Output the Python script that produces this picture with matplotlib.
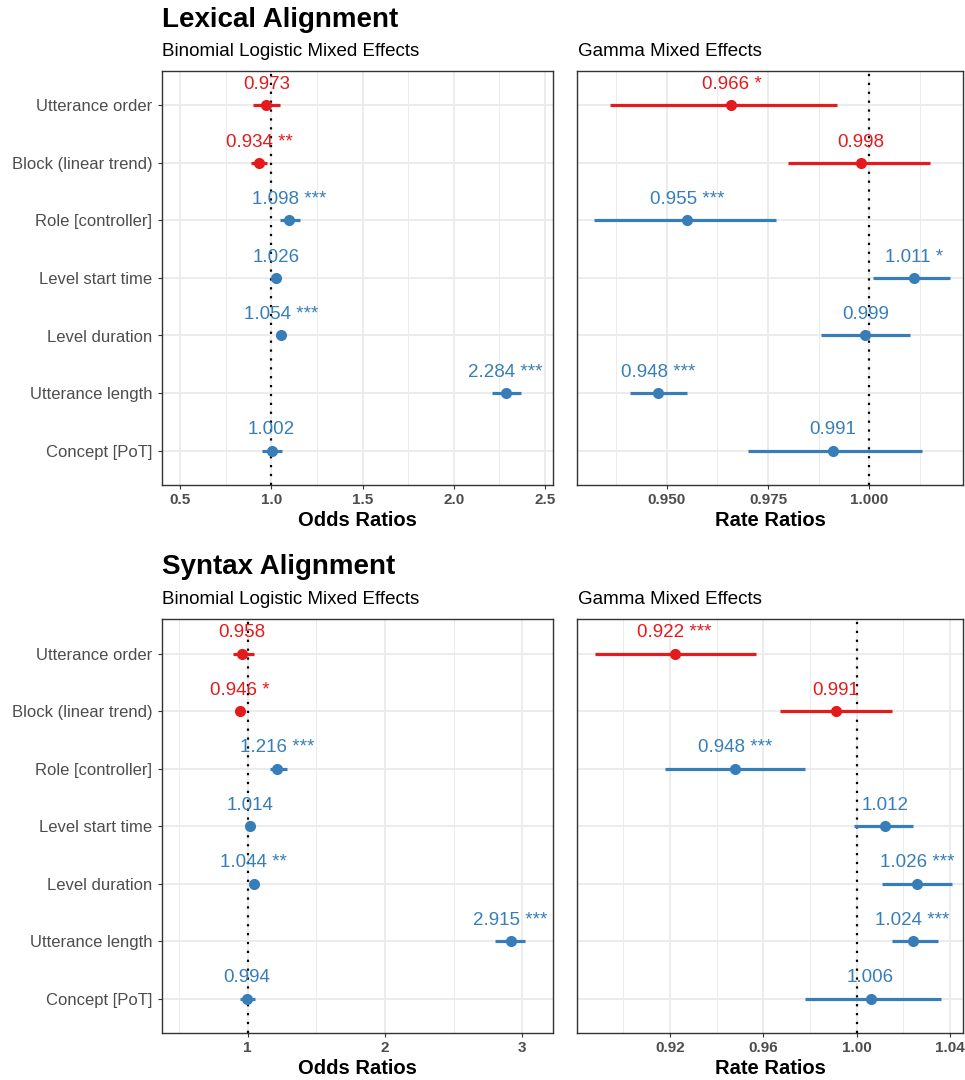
import matplotlib
matplotlib.use("Agg")
import matplotlib.pyplot as plt
from matplotlib.ticker import FixedLocator

plt.rcParams['font.family'] = ['Liberation Sans', 'DejaVu Sans']

# Termos (de cima para baixo)
terms = ["Utterance order", "Block (linear trend)", "Role [controller]",
         "Level start time", "Level duration", "Utterance length", "Concept [PoT]"]
term_group = ["time", "time", "other", "other", "other", "other", "other"]

# Lexical - odds ratios
lex_or = [0.973, 0.934, 1.098, 1.026, 1.054, 2.284, 1.002]
lex_or_lo = [0.900, 0.890, 1.045, 1.008, 1.035, 2.210, 0.950]
lex_or_hi = [1.050, 0.975, 1.160, 1.044, 1.075, 2.370, 1.060]
lex_or_stars = ["", "**", "***", "", "***", "***", ""]

# Lexical - rate ratios
lex_rr = [0.966, 0.998, 0.955, 1.011, 0.999, 0.948, 0.991]
lex_rr_lo = [0.936, 0.980, 0.932, 1.001, 0.988, 0.941, 0.970]
lex_rr_hi = [0.992, 1.015, 0.977, 1.020, 1.010, 0.955, 1.013]
lex_rr_stars = ["*", "", "***", "*", "", "***", ""]

# Syntax - odds ratios
syn_or = [0.958, 0.946, 1.216, 1.014, 1.044, 2.915, 0.994]
syn_or_lo = [0.893, 0.918, 1.162, 0.996, 1.026, 2.800, 0.944]
syn_or_hi = [1.044, 0.975, 1.284, 1.033, 1.063, 3.020, 1.054]
syn_or_stars = ["", "*", "***", "", "**", "***", ""]

# Syntax - rate ratios
syn_rr = [0.922, 0.991, 0.948, 1.012, 1.026, 1.024, 1.006]
syn_rr_lo = [0.888, 0.967, 0.918, 0.999, 1.011, 1.015, 0.978]
syn_rr_hi = [0.957, 1.015, 0.978, 1.024, 1.041, 1.035, 1.036]
syn_rr_stars = ["***", "", "***", "", "***", "***", ""]

colors = {"time": "#E41A1C", "other": "#377EB8"}

W, H = 965, 1080
fig = plt.figure(figsize=(W / 100, H / 100), dpi=100)


def px_axes(x0, y0, x1, y1):
    return fig.add_axes([x0 / W, 1 - y1 / H, (x1 - x0) / W, (y1 - y0) / H])


def forest(ax, est, lo, hi, stars, xlim, major, minor, ticklabels, xlabel, show_y):
    n = len(terms)
    ypos = list(range(n, 0, -1))
    ax.set_xlim(*xlim)
    ax.set_ylim(0.4, n + 0.6)
    ax.xaxis.set_major_locator(FixedLocator(major))
    ax.xaxis.set_minor_locator(FixedLocator(minor))
    ax.set_xticklabels(ticklabels)
    ax.set_yticks(ypos)
    ax.grid(True, which='major', color='#EBEBEB', lw=1.3, zorder=0)
    ax.grid(True, which='minor', axis='x', color='#EBEBEB', lw=0.7, zorder=0)
    ax.set_axisbelow(True)
    ax.axvline(1.0, color='black', ls=(0, (1, 3)), lw=1.6, zorder=1)
    for i in range(n):
        c = colors[term_group[i]]
        ax.plot([lo[i], hi[i]], [ypos[i], ypos[i]], color=c, lw=2.3,
                solid_capstyle='butt', zorder=2)
        ax.plot(est[i], ypos[i], 'o', color=c, ms=7, zorder=3)
        lab = f"{est[i]:.3f} {stars[i]}".strip()
        ax.text(est[i], ypos[i] + 0.36, lab, color=c, fontsize=13.5,
                ha='center', va='center', zorder=4)
    if show_y:
        ax.set_yticklabels(terms, fontsize=12, color='#4D4D4D')
    else:
        ax.set_yticklabels([])
    ax.tick_params(axis='y', length=3, width=0.8, color='#333333', pad=4,
                   left=show_y)
    ax.tick_params(axis='x', which='major', length=3, width=0.8, color='#333333',
                   pad=3, labelsize=11, labelcolor='#4D4D4D')
    ax.tick_params(axis='x', which='minor', length=0)
    for lbl in ax.get_xticklabels():
        lbl.set_fontweight('bold')
    for s in ax.spines.values():
        s.set_color('#333333')
        s.set_linewidth(1.0)
    ax.set_xlabel(xlabel, fontsize=14.5, fontweight='bold', labelpad=3)


ax1 = px_axes(162, 71, 553, 485)
forest(ax1, lex_or, lex_or_lo, lex_or_hi, lex_or_stars, (0.401, 2.544),
       [0.5, 1.0, 1.5, 2.0, 2.5], [0.75, 1.25, 1.75, 2.25],
       ["0.5", "1.0", "1.5", "2.0", "2.5"], "Odds Ratios", True)

ax2 = px_axes(577, 71, 963, 485)
forest(ax2, lex_rr, lex_rr_lo, lex_rr_hi, lex_rr_stars, (0.9279, 1.0231),
       [0.950, 0.975, 1.000], [0.9375, 0.9625, 0.9875, 1.0125],
       ["0.950", "0.975", "1.000"], "Rate Ratios", False)

ax3 = px_axes(162, 619, 553, 1033)
forest(ax3, syn_or, syn_or_lo, syn_or_hi, syn_or_stars, (0.376, 3.224),
       [1, 2, 3], [0.5, 1.5, 2.5], ["1", "2", "3"], "Odds Ratios", True)

ax4 = px_axes(577, 619, 963, 1033)
forest(ax4, syn_rr, syn_rr_lo, syn_rr_hi, syn_rr_stars, (0.8801, 1.0456),
       [0.92, 0.96, 1.00, 1.04], [0.90, 0.94, 0.98, 1.02],
       ["0.92", "0.96", "1.00", "1.04"], "Rate Ratios", False)

# Títulos
fig.text(162 / W, 1 - 20 / H, "Lexical Alignment", fontsize=20,
         fontweight='bold', ha='left', va='center')
fig.text(162 / W, 1 - 52 / H, "Binomial Logistic Mixed Effects", fontsize=13.5,
         ha='left', va='center')
fig.text(578 / W, 1 - 52 / H, "Gamma Mixed Effects", fontsize=13.5,
         ha='left', va='center')
fig.text(162 / W, 1 - 567 / H, "Syntax Alignment", fontsize=20,
         fontweight='bold', ha='left', va='center')
fig.text(162 / W, 1 - 600 / H, "Binomial Logistic Mixed Effects", fontsize=13.5,
         ha='left', va='center')
fig.text(578 / W, 1 - 600 / H, "Gamma Mixed Effects", fontsize=13.5,
         ha='left', va='center')

fig.savefig("out.png", dpi=100)
